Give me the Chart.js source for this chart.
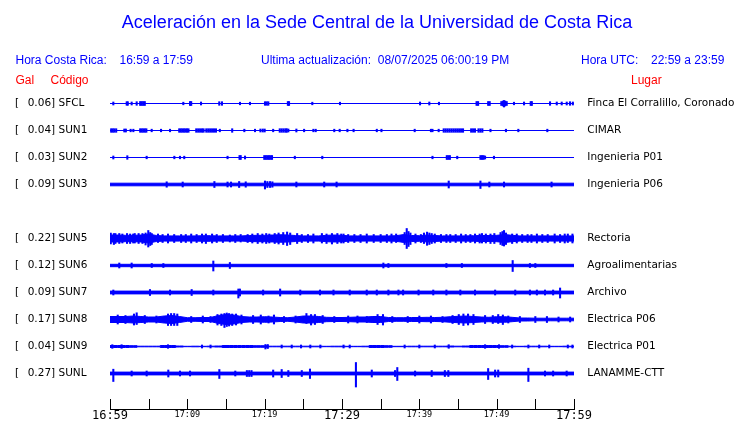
<!DOCTYPE html>
<html><head><meta charset="utf-8">
<script src="https://cdn.jsdelivr.net/npm/chart.js@4/dist/chart.umd.min.js"></script>
<style>html,body{margin:0;padding:0;background:#fff;}canvas{display:block;}</style>
</head><body>
<canvas id="c" width="740" height="423"></canvas>
<script>
// ---------------- data ----------------
const titleText = 'Aceleración en la Sede Central de la Universidad de Costa Rica';
const tickLabels = ['16:59','17:09','17:19','17:29','17:39','17:49','17:59'];
const codes  = ['SFCL','SUN1','SUN2','SUN3','SUN4','SUN5','SUN6','SUN7','SUN8','SUN9','SUNL'];
const gal    = [0.06, 0.04, 0.03, 0.09, null, 0.22, 0.12, 0.09, 0.17, 0.04, 0.27];
const places = ['Finca El Corralillo, Coronado','CIMAR','Ingenieria P01','Ingenieria P06', null,
                'Rectoria','Agroalimentarias','Archivo','Electrica P06','Electrica P01','LANAMME-CTT'];
// background noise half-amplitude (display counts) for steady traces
const noise  = [0, 0, 0, 1.3, null, null, 1.2, 1.4, null, null, 1.4];
// minute-by-minute envelope (half-amplitude) for the busy traces, minutes 0..60 after 16:59
const env_SUN5 = [3.5,3.5,3.2,3.2,3.5,4.5,3,2.6,2.6,2.6, 2.6,2.6,2.8,2.8,2.6,2.6,2.6,2.6,3,3.2,
                  3.2,3.5,3.8,3.5,3,2.6,2.6,2.6,3.2,3.5, 3.2,2.6,2.6,2.6,2.6,2.6,2.6,2.8,4,3,
                  2.8,3.5,3,2.6,2.6,2.6,2.6,2.8,3,3, 3.2,4,3.2,2.6,2.6,2.6,2.6,2.6,2.6,2.6, 2.6];
const env_SUN8 = [3,3,3,3.5,3,2.5,2.5,3.5,4,3, 1.8,1.8,2,2,4,5,4.5,3,2.5,2.5,
                  2.8,2.5,2,1.8,2.5,3.5,3.5,3,2.2,2, 2,2.2,2.5,2.5,3,3,2,1.8,1.8,2,
                  2,2.2,2,2.2,2.8,3.2,3.5,3,2.5,2.2, 2.8,2.8,2.2,1.5,1.5,1.3,1.3,1.3,1.3,1.3, 1.3];
const env_SUN9 = [1,1,1,0.8,0.3,0.3,0.3,1,1,0.5, 0.2,0.3,0.2,0.3,0.5,1,1,1,1,0.8,
                  0.8,0.3,0.3,0.3,0.3,0.3,0.3,0.3,0.2,0.3, 0.3,0.2,0.2,0.3,1,1,0.8,0.2,0.2,0.3,
                  0.3,0.3,0.3,0.3,0.5,0.3,0.5,1,1,1, 1,0.8,0.3,0.2,0.3,0.3,0.3,0.2,0.2,0.3, 0.3];
// spikes: [minute, upper amplitude, lower amplitude (default = -upper)]
const spk_SFCL = [[0.43,1.5],[2.16,1.8],[2.3,1.8],[2.8,1.5],[3.45,1.8],[3.9,2],[4.1,2],[4.3,2],[4.5,2],
  [9.48,1.3],[10.35,2],[10.5,2],[11.77,1.5],[14.13,1.8],[14.48,1.8],[16.81,1.3],[18.1,1.3],
  [20.04,1.8],[20.26,1.8],[20.47,1.8],[23.0,2],[23.15,2],[26.16,1.3],[29.74,1.3],[40.09,1.5],
  [41.29,1.5],[42.54,1.3],[47.4,2],[47.6,2],[48.9,2],[49.1,2],[50.6,2],[50.8,2.5],[50.95,3,-3.5],
  [51.1,2.5],[51.3,2],[52.24,1.3],[53.54,1.5],[54.4,2],[54.55,2],[56.9,1.8],[57.77,1.5],
  [58.41,1.5],[59.06,1.5],[59.48,1.8],[59.85,1.5]];
const spk_SUN1 = [[0.15,1.8],[0.35,1.8],[0.55,1.8],[0.8,1.8],[1.85,1.5],[2.05,1.5],[2.67,1.3],[3.02,1.3],
  [3.9,1.8],[4.1,1.8],[4.3,1.8],[4.5,1.8],[4.7,1.8],[5.39,1.3],[6.6,1.3],[7.76,1.3],
  [8.95,1.8],[9.15,1.8],[9.35,1.8],[9.55,1.8],[9.75,1.8],[9.95,1.8],[10.15,1.8],
  [11.15,1.8],[11.4,1.8],[11.65,1.8],[11.9,1.8],[12.1,1.8],[12.45,1.8],[12.7,1.8],[12.95,1.8],
  [13.2,1.8],[13.45,1.8],[13.7,1.8],[14.2,1.3],[15.8,1.8],[17.37,1.3],[18.75,1.3],
  [19.45,1.5],[19.75,1.5],[20.0,1.5],[21.1,1.3],[21.95,1.8],[22.2,1.8],[22.45,1.8],[22.7,1.8],
  [22.85,1.8],[23.06,1.5],[24.1,1.5],[25.1,1.3],[26.3,1.3],[26.6,1.3],[29.0,1.3],[29.7,1.3],
  [30.7,1.3],[31.5,1.3],[34.5,1.3],[35.1,1.3],[39.4,1.3],[41.5,1.3],[41.7,1.3],[42.5,1.3],
  [43.15,1.8],[43.4,1.8],[43.65,1.8],[43.9,1.8],[44.15,1.8],[44.4,1.8],[44.65,1.8],[44.9,1.8],
  [45.15,1.8],[45.4,1.8],[45.65,1.8],[46.7,1.8],[46.95,1.8],[47.2,1.8],[47.65,1.8],[47.9,1.8],
  [48.15,1.8],[49.2,1.3],[51.2,1.3],[52.8,1.3],[56.55,1.3]];
const spk_SUN2 = [[0.43,1.5],[2.24,1.8],[4.74,1.3],[8.32,1.3],[9.05,1.3],[9.6,1.3],[15.2,1.3],
  [16.75,2],[16.9,2],[17.46,1.5],[19.95,2],[20.15,2],[20.35,2],[20.55,2],[20.75,2],[20.95,2],
  [23.9,1.3],[27.45,1.3],[41.7,1.3],[43.55,2],[43.75,2],[43.95,2],[44.9,1.3],
  [47.9,2],[48.1,2],[48.3,2],[48.5,1.5],[49.65,1.3]];
const spk_SUN3 = [[7.33,2.7],[9.4,2.5],[13.5,3],[15.2,2.5],[15.65,2.5],[16.7,3],[17.55,2.7],
  [20.04,3.5,-4.5],[20.35,3],[20.7,3],[21.0,2.7],[24.1,2.5],[27.7,2.5],[29.3,2.5],
  [43.8,3.5],[47.9,3.5,-4],[49.05,2.5],[50.95,2.5],[57.1,2.5]];
const spk_SUN5 = [[0.1,5.5],[0.5,5,-6],[0.7,5],[1.2,5],[1.6,4.5],[2.2,5],[2.6,4.5,-5],[3.0,4.5],
  [3.2,5,-4.5],[3.7,5],[4.2,5],[4.6,5.5,-6.5],[4.95,8,-8.5],[5.2,6,-7],[5.4,5,-6],[6.2,4.5,-4],
  [6.8,4],[7.5,4.5],[8.3,4],[9.2,4],[9.8,4],[10.5,4.5],[11.2,4],[11.9,4.5],[12.4,4.5,-5],
  [13.2,4.5],[13.8,4],[14.6,4],[15.5,3.5],[16.2,4],[16.9,4,-3.5],[17.8,4],[18.4,4.5],[19.1,5],
  [19.7,4.5],[20.2,5],[20.6,4.5],[21.3,5],[21.8,5.5],[22.4,6],[22.9,6.5,-7],[23.3,5.5,-6],
  [24.2,5],[24.8,4],[25.6,4],[26.3,4.5],[27.4,5,-4.5],[28.0,4.5,-5],[28.7,5,-5.5],[29.4,5],
  [29.9,4.5],[30.2,4.5],[30.8,4],[31.6,4],[32.4,4],[33.2,4.5],[34.1,4],[35.0,4],[35.8,4],
  [36.4,4.5],[37.0,4.5,-4],[38.1,6],[38.37,10,-10],[38.6,7,-8],[38.85,5.5,-6],[39.5,4.5],
  [40.2,4],[40.6,5.5,-5],[41.0,6.4,-6.8],[41.3,5.5,-6],[41.6,5],[42.0,4.5],[42.8,4],[43.5,4],
  [44.0,4],[44.7,4],[45.4,4.5],[46.0,4],[46.6,4],[47.2,4.5],[47.8,4.5],[48.1,5,-4.5],[48.6,4.5],
  [49.2,4.5,-5],[49.7,5],[50.5,6],[50.75,7,-7],[50.95,8,-7.5],[51.2,5.5,-6],[52.0,4.5,-5],
  [52.6,4.5],[53.3,4],[54.0,4],[54.5,4],[55.2,4.5],[55.9,4],[56.6,4],[57.5,4.5],[58.2,4],
  [58.8,4.5],[59.2,4.5,-4],[59.8,4.5]];
const spk_SUN6 = [[1.2,2.5],[2.8,2.5],[5.4,2],[6.9,2],[13.36,4.5,-5.5],[15.5,3],[35.35,2.5],[36.0,2],
  [43.5,2],[45.5,2],[52.07,5,-6],[54.3,2],[55.0,2]];
const spk_SUN7 = [[0.43,2.5],[5.17,3],[7.76,2.5],[10.56,3],[13.36,2.5],[16.6,3.5,-5.5],[16.8,3.5],
  [19.8,2.5],[22.0,3.5],[24.6,2.5],[27.15,2.5],[28.9,2.5],[31.0,2.5],[33.2,2.5],[34.5,2.5],
  [36.0,2.5],[37.3,2.5],[37.9,2.5],[39.9,2.5],[41.8,2.5],[43.5,2.5],[45.3,2.5],[47.2,2.5],
  [49.8,2.5],[52.4,2.5],[54.3,2.5],[55.2,2.5],[56.25,2.5],[57.3,2.5],[58.2,4.5,-5.5]];
const spk_SUN8 = [[1.0,4.5],[2.0,4],[3.1,5.5],[3.45,6.7,-5],[4.5,4],[6.0,3.5],[7.5,5.5,-6],[7.9,6],
  [8.3,6],[8.7,5.5,-6],[10.5,3],[12.0,3.5],[13.0,3],[13.9,5,-5.5],[14.4,5.5,-6],[14.8,6,-8],
  [15.1,6.5,-7],[15.4,6,-6.5],[15.8,5.5,-6],[16.3,5.5],[17.0,4.5],[18.5,4],[19.5,4.5],[20.5,3.5],
  [21.2,4.5],[22.5,3],[24.0,3.5],[25.4,6,-4],[26.0,5,-5.5],[26.5,5],[27.5,4],[29.0,3],[30.8,3.5],
  [32.0,3.5],[33.2,3],[34.6,5],[35.3,5,-5.5],[36.5,3],[38.5,3],[40.0,3.5],[41.5,3.5],[43.0,3],
  [44.3,4],[45.1,5],[45.7,5.5,-6],[46.3,5.5],[47.0,5],[48.5,4],[49.5,4],[50.2,5,-4],[50.8,4.5,-5],
  [51.5,3.5],[53.0,3],[55.0,3],[56.5,3],[58.0,2.5],[59.5,2.5]];
const spk_SUN9 = [[0.3,1.8],[1.5,1.8],[7.5,1.8],[11.9,1.5],[13.0,1.5],[20.1,2,-2.5],[20.4,2],
  [22.2,1.5],[23.5,1.5],[24.7,1.5],[25.9,1.5],[27.2,1.5],[30.2,1.5],[31.0,1.5],[38.1,1.5],
  [40.0,1.5],[42.0,1.5],[43.8,1.8],[48.5,1.8],[50.3,1.8],[52.0,1.5],[54.1,1.5],[55.5,1.5],
  [56.8,1.5],[59.2,1.5],[59.8,1.5]];
const spk_SUNL = [[0.43,4.3,-8],[2.8,2.5],[4.74,2.5],[7.54,3.5],[9.05,2.5],[10.35,2.5],[14.14,4,-5],
  [16.2,2.5],[17.7,3],[18.0,3],[18.3,3],[21.1,3.5],[22.2,4],[23.06,3],[24.8,3],[25.86,4.5,-5],
  [31.8,11,-13.5],[33.85,3.5],[36.86,3],[37.15,6,-7],[39.45,2.5],[41.6,3],[43.3,3],[43.75,3],
  [48.9,5,-6],[49.8,3.5],[50.2,3.5],[54.1,5.3,-8],[56.25,2.5],[57.3,2.5],[59.05,2.5]];

const envs   = [null,null,null,null,null,env_SUN5,null,null,env_SUN8,env_SUN9,null];
const spikes = [spk_SFCL,spk_SUN1,spk_SUN2,spk_SUN3,null,spk_SUN5,spk_SUN6,spk_SUN7,spk_SUN8,spk_SUN9,spk_SUNL];

// ---------------- build ----------------
const BLUE = '#0000ff', RED = '#ff0000';
const ROW0 = 305.5, ROWSTEP = 27;       // row centres in y-axis units
const center = i => ROW0 - ROWSTEP * i;
const rows = codes.map((c, i) => i).filter(i => gal[i] !== null);

const lineSets = [], barSets = [];
rows.forEach(i => {
  const c = center(i);
  const stepped = codes[i] === 'SUN9' ? 'middle' : false;
  let up, lo;
  if (envs[i]) {
    up = envs[i].map((a, k) => ({x: k, y: c + a}));
    lo = envs[i].map((a, k) => ({x: k, y: c - a}));
  } else {
    up = [{x: 0, y: c + noise[i]}, {x: 60, y: c + noise[i]}];
    lo = [{x: 0, y: c - noise[i]}, {x: 60, y: c - noise[i]}];
  }
  lineSets.push({type: 'line', data: up, borderColor: BLUE, borderWidth: 1, pointRadius: 0, fill: false, tension: 0, stepped});
  lineSets.push({type: 'line', data: lo, borderColor: BLUE, borderWidth: 1, pointRadius: 0, fill: '-1', backgroundColor: BLUE, tension: 0, stepped});
  barSets.push({type: 'bar', grouped: false, barThickness: 1.4, backgroundColor: BLUE, borderWidth: 0,
    data: spikes[i].map(s => ({x: s[0], y: [c + (s[2] === undefined ? -s[1] : s[2]), c + s[1]]}))});
});

const deco = {
  id: 'deco',
  afterDraw(chart) {
    const ctx = chart.ctx, a = chart.chartArea, xs = chart.scales.x;
    ctx.save();
    ctx.textBaseline = 'middle';
    ctx.fillStyle = BLUE;
    ctx.textAlign = 'center';
    ctx.font = '18px "Liberation Sans", Arial, sans-serif';
    ctx.fillText(titleText, 377, 23);
    ctx.textAlign = 'left';
    ctx.font = '12px "Liberation Sans", Arial, sans-serif';
    ctx.fillText('Hora Costa Rica:', 15.5, 61);
    ctx.fillText(tickLabels[0] + ' a ' + tickLabels[6], 119.5, 61);
    ctx.fillText('Ultima actualización:  08/07/2025 06:00:19 PM', 261, 61);
    ctx.fillText('Hora UTC:', 581, 61);
    ctx.fillText('22:59 a 23:59', 651, 61);
    ctx.fillStyle = RED;
    ctx.fillText('Gal', 15.5, 81);
    ctx.fillText('Código', 50.5, 81);
    ctx.fillText('Lugar', 631, 81);
    // time axis with inward ticks
    ctx.strokeStyle = '#000';
    ctx.lineWidth = 1;
    ctx.beginPath();
    ctx.moveTo(a.left, a.bottom + 0.5);
    ctx.lineTo(a.right + 1, a.bottom + 0.5);
    for (let t = 0; t <= 60; t += 5) {
      const px = Math.round(xs.getPixelForValue(t)) + 0.5;
      ctx.moveTo(px, a.bottom - 10);
      ctx.lineTo(px, a.bottom + 1);
    }
    ctx.stroke();
    ctx.restore();
  }
};

const noPad = s => { s.paddingTop = 0; s.paddingBottom = 0; };

new Chart(document.getElementById('c'), {
  type: 'line',
  data: {datasets: [...lineSets, ...barSets]},
  plugins: [deco],
  options: {
    responsive: false,
    animation: false,
    devicePixelRatio: 1,
    events: [],
    layout: {padding: {left: 15, right: 0, top: 88, bottom: 0}, autoPadding: false},
    plugins: {legend: {display: false}, tooltip: {enabled: false}, title: {display: false}},
    scales: {
      x: {
        type: 'linear', position: 'bottom', min: 0, max: 60, offset: false,
        grid: {display: false, drawTicks: false}, border: {display: false},
        ticks: {
          stepSize: 5, autoSkip: false, maxRotation: 0, padding: 0, color: '#000',
          callback: v => (v % 10 === 0 ? tickLabels[v / 10] : ''),
          font: ctx => (ctx.tick && ctx.tick.value % 30 === 0)
            ? {family: '"DejaVu Sans Mono", monospace', size: 12, lineHeight: 1.2}
            : {family: '"DejaVu Sans Mono", monospace', size: 8.5, lineHeight: 1.3}
        },
        afterFit: s => { s.height = 14; }
      },
      y: {
        type: 'linear', position: 'left', min: 0, max: 321,
        grid: {display: false, drawTicks: false}, border: {display: false},
        afterBuildTicks: s => { s.ticks = rows.map(i => ({value: center(i)})); },
        ticks: {
          autoSkip: false, padding: 0, crossAlign: 'far', color: '#000',
          font: {family: '"DejaVu Sans", sans-serif', size: 10.5},
          callback: (v, idx) => '[\u2002 ' + gal[rows[idx]].toFixed(2) + '] ' + codes[rows[idx]]
        },
        afterFit: s => { s.width = 95; noPad(s); }
      },
      y2: {
        type: 'linear', position: 'right', min: 0, max: 321,
        grid: {display: false, drawTicks: false}, border: {display: false},
        afterBuildTicks: s => { s.ticks = rows.map(i => ({value: center(i)})); },
        ticks: {
          autoSkip: false, padding: 13.3, color: '#000',
          font: {family: '"DejaVu Sans", sans-serif', size: 10.5},
          callback: (v, idx) => places[rows[idx]]
        },
        afterFit: s => { s.width = 166; noPad(s); }
      }
    }
  }
});
</script>
</body></html>
